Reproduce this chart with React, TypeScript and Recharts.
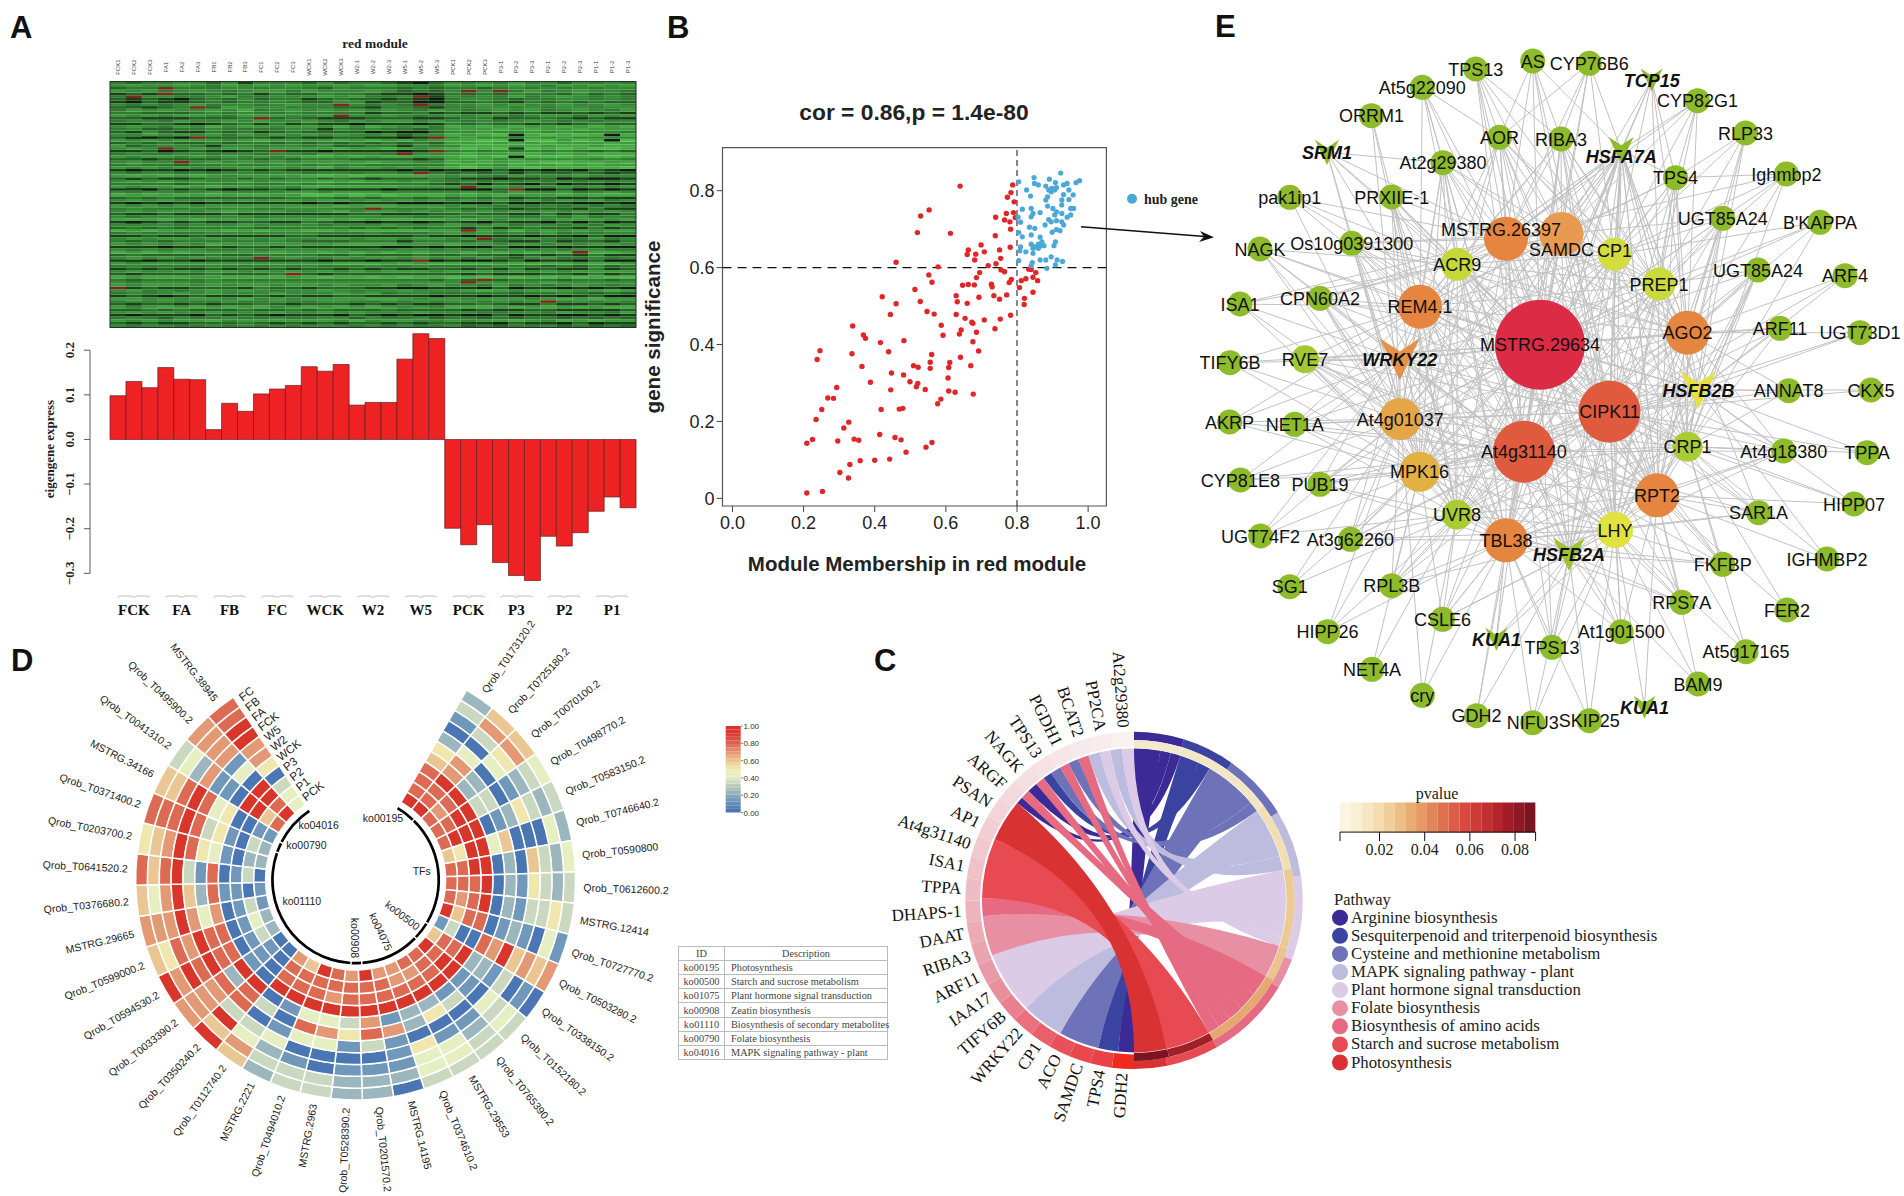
import React from "react";
import {
  BarChart, Bar, Cell, XAxis, YAxis, ScatterChart, Scatter, ReferenceLine, ReferenceArea,
  PieChart, Pie, LineChart, Line,
} from "recharts";

const SANS = '"Liberation Sans", Arial, sans-serif';
const SERIF = '"Liberation Serif", "Times New Roman", serif';

/* ---------- A: module heatmap + eigengene bars ---------- */
const sampleNames = ["FCK1","FCK2","FCK3","FA1","FA2","FA3","FB1","FB2","FB3","FC1","FC2","FC3","WCK1","WCK2","WCK3","W2-1","W2-2","W2-3","W5-1","W5-2","W5-3","PCK1","PCK2","PCK3","P3-1","P3-2","P3-3","P2-1","P2-2","P2-3","P1-1","P1-2","P1-3"];
const eigengene = [0.098,0.13,0.116,0.161,0.135,0.134,0.022,0.081,0.063,0.102,0.113,0.121,0.163,0.153,0.168,0.077,0.083,0.083,0.18,0.237,0.226,-0.199,-0.236,-0.191,-0.276,-0.305,-0.316,-0.217,-0.239,-0.209,-0.161,-0.129,-0.153];
const groupMiddles: Record<string,string> = {FCK2:"FCK",FA2:"FA",FB2:"FB",FC2:"FC",WCK2:"WCK","W2-2":"W2","W5-2":"W5",PCK2:"PCK","P3-2":"P3","P2-2":"P2","P1-2":"P1"};
const heatRows = [
"323344241333242332102 434353424343","454454354545445455443 545454354545","233333344344324333232 332343434344","545345434553544454232 454235345443",
"121222323132243321101 323243324232","344433453344454533411 434353454343","212102324233123221210 344323344343","102112323343224412200 223213232322",
"434345344345443434343 445454454454","221233254443332213321 334434344344","354544546345454545435 434545345435","332223434334333312231 211212112121",
"545455435554455445434 545434553545","221112223223211122211 233122321211","344354454544543545545 434345434344","112210123131211011101 323221212322",
"454354645545546465453 656565565656","342233433334414343323 555656556555","214211323123222201002 445445454443","445454535454545445244 656706767606",
"210101222212112211010 454435454444","545455545655556565645 667707757607","232322323323232323232 556565655565","523443144344342233143 466656566566",
"454545455455556556545 676717676776","112012101211101111011 343434343232","343344344344354443444 565566565666","545545454545665656655 676707776676",
"221222233232333222212 555454444343","454434545454555565544 656566776656","343323343344343433333 565465565655","545454445554564554545 676567666667",
"101101012121111111010 100201010210","434434344344344344343 232313223212","565656545555676766665 454354445444","212112332323323212223 211011201001",
"454545445455565655454 343434343434","333323434334343333332 120210201101","545565655454666666555 545545454545","110212101121211110111 100210020101",
"434434544445545554444 454354453454","656565656655776767666 565655565666","232322222223332323323 232312211211","454544545455455454545 454535354534",
"101010111111010111000 100200110010","545454555555556566555 454343434343","343334344334443343334 323212221311","454554565554456455454 545454545454",
"211211121111111221112 232211312113","434444444344444444433 434433435343","565656555555565656666 565455455545","101212112211321101101 210211020201",
"444434445444434445444 544534434354","232323333233333232323 313123221312","656555565655665666665 555464545455","343433444444433343334 545343534344",
"112112111112211111121 101110110200","454554545454455455455 454345433534","323233333343222333133 323211312213","545454655555556666555 655455454554",
"111011212212111110010 100200101100","434344334344444333443 434343434433","656565555565565656565 565656565665","232222322333322322232 232212121311",
"454545444545445455454 535324533434","110110111111101101110 100120110200","545555555555556665656 666566665665","343333433343433343343 333433232423",
"121211212121221212112 212131211312","454454554545454545554 555454545555","212222322232212222222 212111221312","656665566665676676766 767676767677",
"323333433333333333332 423233323323","434443444444444444444 454444544444","545554545545545445345 443534345434","212112221322122211001 110201101010",
"453434545434454344544 456545654565","343454544454445453443 333323343232","121012111212112211110 110110101200","554545546454555566545 545554565655",
"343433343343344334343 443434334343","212212122321222121211 223211311212","545656565645656565454 666565656566","223232223223232223222 212112211112",
"454544544454454544454 443344354435","101110212101110210100 100201100101","343243343343344243342 332323323232","545455645555554645544 545565465655",
"212112223212121221212 211021102011","434433434343444343433 423233423232",
];
/* row, column of the few dark-red streaks */
const heatRedCells: number[][] = [[2,3],[4,3],[5,1],[9,5],[13,9],[25,10],[24,3],[20,5],[29,4],[20,20],[25,20],[26,18],[33,19],[38,22],[39,25],[54,22],[57,23],[65,19],[64,9],[70,11],[75,0],[73,22],[72,23],[5,19],[8,19],[3,22],[3,24],[8,14],[12,14],[80,27],[62,29],[46,16]];
const heatPalette: Record<string,string> = {"0":"#0a1f0a","1":"#164216","2":"#246424","3":"#2e7a2f","4":"#348a34","5":"#3c9a3a","6":"#44aa40","7":"#4eba46",r:"#7a2a1c"};
const heatCells = heatRows.map((r, ri) => {
  const cells = r.replace(" ", "").split("");
  heatRedCells.forEach(([row, col]) => { if (row === ri) cells[col] = "r"; });
  return cells.join("");
});
const heatData = sampleNames.map((s) => {
  const o: any = { sample: s };
  heatCells.forEach((_, i) => { o["r" + i] = 1; });
  return o;
});
const barData = sampleNames.map((s, i) => ({ sample: s, value: eigengene[i] }));
const eigenTicks = [-0.3,-0.2,-0.1,0,0.1,0.2];

/* ---------- B: scatter ---------- */
const belowHub: number[][] = [[.640,.812],[.553,.750],[.529,.734],[.520,.691],[.613,.689],[.460,.614],[.578,.602],[.552,.581],[.561,.562],[.513,.543],[.528,.512],[.460,.506],[.421,.524],[.444,.478],[.547,.486],[.567,.479],[.587,.450],[.592,.424],[.482,.410],[.416,.405],[.439,.381],[.338,.448],[.368,.425],[.374,.416],[.246,.384],[.238,.361],[.336,.376],[.364,.343],[.447,.326],[.481,.321],[.388,.302],[.293,.288],[.268,.261],[.284,.260],[.251,.231],[.235,.205],[.418,.231],[.469,.232],[.479,.234],[.327,.198],[.313,.183],[.225,.153],[.209,.143],[.296,.149],[.342,.154],[.355,.151],[.414,.166],[.457,.158],[.474,.152],[.488,.120],[.544,.133],[.561,.145],[.359,.098],[.400,.099],[.442,.102],[.330,.088],[.302,.067],[.326,.053],[.209,.014],[.253,.018],[.445,.282],[.499,.303],[.509,.345],[.522,.341],[.556,.354],[.556,.338],[.560,.374],[.611,.353],[.608,.340],[.606,.313],[.641,.367],[.670,.345],[.676,.407],[.692,.383],[.608,.279],[.626,.276],[.677,.271],[.542,.283],[.517,.290],[.521,.299],[.577,.246],[.586,.258],[.629,.527],[.632,.511],[.660,.507],[.647,.554],[.663,.556],[.680,.555],[.686,.574],[.693,.523],[.728,.557],[.730,.550],[.735,.527],[.751,.518],[.771,.529],[.778,.561],[.784,.569],[.629,.478],[.654,.468],[.673,.458],[.708,.464],[.753,.466],[.782,.476],[.643,.438],[.638,.427],[.686,.432],[.738,.441],[.676,.455],[.695,.587],[.719,.605],[.741,.610],[.755,.594],[.765,.589],[.754,.624],[.751,.646],[.708,.641],[.699,.659],[.684,.635],[.681,.620],[.663,.646],[.660,.634],[.739,.683],[.781,.653],[.782,.700],[.740,.731],[.770,.741],[.765,.724],[.780,.719],[.795,.730],[.790,.743],[.773,.783],[.783,.795],[.788,.815],[.792,.771],[.833,.596],[.840,.595],[.853,.587],[.825,.571],[.812,.566],[.845,.575],[.858,.566],[.807,.548],[.845,.536],[.821,.520],[.820,.504]];
const hubGenes: number[][] = [[.805,.823],[.848,.834],[.849,.819],[.860,.815],[.891,.830],[.908,.821],[.923,.846],[.931,.815],[.941,.819],[.966,.821],[.976,.826],[.827,.802],[.838,.786],[.881,.812],[.898,.806],[.906,.802],[.886,.784],[.881,.776],[.896,.797],[.926,.776],[.931,.790],[.946,.802],[.958,.789],[.946,.777],[.926,.763],[.815,.752],[.886,.760],[.840,.754],[.845,.741],[.840,.732],[.865,.743],[.901,.754],[.911,.745],[.906,.737],[.951,.754],[.959,.754],[.941,.731],[.803,.731],[.810,.718],[.835,.705],[.850,.702],[.879,.711],[.889,.725],[.896,.719],[.911,.722],[.926,.719],[.931,.711],[.921,.696],[.899,.692],[.911,.699],[.805,.691],[.815,.680],[.840,.685],[.865,.679],[.870,.667],[.908,.667],[.904,.657],[.810,.654],[.808,.644],[.825,.641],[.840,.661],[.850,.654],[.860,.661],[.876,.657],[.845,.637],[.860,.650],[.805,.618],[.843,.613],[.865,.620],[.881,.620],[.896,.628],[.913,.620],[.928,.616],[.908,.607],[.884,.598],[.840,.605],[.911,.808],[.889,.802],[.951,.737],[.926,.741],[.865,.656],[.855,.654],[.845,.650]];
const toPts = (a: number[][]) => a.map(([x, y]) => ({ x, y }));

/* ---------- C: chord ---------- */
const geneNames = ["GDH2","TPS4","SAMDC","ACO","CP1","WRKY22","TIFY6B","IAA17","ARF11","RIBA3","DAAT","DHAPS-1","TPPA","ISA1","At4g31140","AP1","PSAN","ARGF","NAGK","TPS13","PGDH1","BCAT2","PP2CA","At2g29380"];
const geneColors = ["#f02a20","#ea4048","#e8484e","#e8505a","#e9606a","#e9707c","#e88090","#e8909c","#e99aa8","#e9a4b0","#ecacb6","#edb4bc","#eebcc4","#efc2c8","#f0c8ce","#f2ced2","#f3d4d8","#f4d8dc","#f5dee0","#f6e2e4","#f7e6e8","#f8eaec","#f8ecee","#f9f0f0"];
const pathwayNames = ["Arginine biosynthesis","Sesquiterpenoid and triterpenoid biosynthesis","Cysteine and methionine metabolism","MAPK signaling pathway - plant","Plant hormone signal transduction","Folate biosynthesis","Biosynthesis of amino acids","Starch and sucrose metabolism","Photosynthesis"];
const pathwayColors = ["#3c2a96","#3a44a0","#6e72b8","#bdbbde","#dccbe6","#e88fa4","#e66a82","#e84a52","#d93232"];
const pathwayShare = [17.2,18.2,23.2,23,29,10.4,29.6,18,11.4];
const pvalueShare = [17.8,12,24.2,24.5,29,12.3,30.7,16.9,12.6];
const pvalueRing = ["#f3e9cc","#f2e6c6","#f3e6c5","#f0dfb5","#ecca93","#e9c48c","#e5a870","#a12028","#7a1420"];
/* pathway index, gene-side start/end, pathway-side start/end (degrees of the circle) */
const chordLinks: number[][] = [
  [0,180,186,0,10],[0,309.8,312.5,10,14],[0,316,320,14,17.8],
  [1,186,193.7,17.8,25],[1,323.5,327,25,29.8],
  [2,193.7,209,29.8,46],[2,327,331,46,50],[2,334.5,338.5,50,54],
  [3,209,225,54,68],[3,342.5,347,68,73],[3,351,355.5,73,78.5],
  [4,225,248.8,78.5,100],[4,347,351,100,104],[4,355.5,360,104,107.5],
  [5,248.8,264,107.5,119.8],
  [6,264,270.8,119.8,128],[6,312.5,316,128,135],[6,320,323.5,135,141],[6,331,334.5,141,146],[6,338.5,342.5,146,150.5],
  [7,270.8,293.7,150.5,167.4],
  [8,293.7,309.8,167.4,180],
];
const pvalueBands = ["#fbf5e2","#f9efd3","#f7e6c2","#f4dcb0","#f1cf9b","#edbf86","#e9ad74","#e69a66","#e2865a","#de7150","#da5d48","#d64a40","#d03a36","#c42e30","#b4242c","#a21c28","#8e1824","#7a1420"];
const pvalueTicks = [0.0025,0.02,0.04,0.06,0.08,0.0891];
const koTableIds = ["ko00195","ko00500","ko01075","ko00908","ko01110","ko00790","ko04016"];
const koTableDesc = ["Photosynthesis","Starch and sucrose metabolism","Plant hormone signal transduction","Zeatin biosynthesis","Biosynthesis of secondary metabolites","Folate biosynthesis","MAPK signaling pathway - plant"];

/* ---------- D: circular heatmap ---------- */
const circGenes = ["Qrob_T0173120.2","Qrob_T0725180.2","Qrob_T0070100.2","Qrob_T0498770.2","Qrob_T0583150.2","Qrob_T0746640.2","Qrob_T0590800","Qrob_T0612600.2","MSTRG.12414","Qrob_T0727770.2","Qrob_T0503280.2","Qrob_T0338150.2","Qrob_T0152180.2","Qrob_T0765390.2","MSTRG.29553","Qrob_T0374610.2","MSTRG.14195","Qrob_T0201570.2","Qrob_T0528390.2","MSTRG.2963","Qrob_T0494010.2","MSTRG.2221","Qrob_T0112740.2","Qrob_T0350240.2","Qrob_T0033390.2","Qrob_T0594530.2","Qrob_T0599000.2","MSTRG.29665","Qrob_T0376680.2","Qrob_T0641520.2","Qrob_T0203700.2","Qrob_T0371400.2","MSTRG.34166","Qrob_T0041310.2","Qrob_T0495900.2","MSTRG.38945"];
const circRings = ["FC","FB","FA","FCK","W5","W2","WCK","P3","P2","P1","PCK"];
/* one string per gene, outer ring (FC) to inner ring (PCK); digit = scaled expression x 9 */
const circValues = ["23102568889","67304779889","67540229878","43210339988","32352109998","24000649956","42360209988","32351209888","35331209878","14012108869","76769780031","01031229886","34340119989","33210319888","34410529878","34450229877","02111719887","22103879889","22101539887","33004749788","33104849889","23241019886","67430309887","96938890000","77778291110","97989880132","65879880142","77797470131","64796281101","86893180130","56798541022","88898351032","66898450011","34271109968","77771409989","88997750344"];
const circPalette = ["#4a76b3","#7098ba","#9cb6bd","#c9d8bf","#e6efc2","#f0e7ae","#e9c692","#e39a74","#dd6a52","#d8352b"];
const trackNames = ["ko00195","TFs","ko00500","ko04075","ko00908","ko01110","ko00790","ko04016"];
const trackSpan = [13.4,77.5,12,41.5,6.5,107,6.5,29.5];
const scaleBandColors = ["#4a76b3","#5681b5","#648db7","#7399ba","#84a6bc","#96b2bd","#a9c0bf","#bccdc0","#cfdbc1","#e0e7c2","#ebefc0","#f0ecb5","#f0e2a8","#eed49a","#ebc38c","#e8b080","#e59c74","#e28868","#df745c","#dc6050","#da4e44","#d9413a","#d83a32","#d7332b"];
const scaleTicks = [0,0.2,0.4,0.6,0.8,1];

/* ---------- E: network ---------- */
const nodeNames = ["TPS13","AS","CYP76B6","TCP15","At5g22090","CYP82G1","ORRM1","AOR","RIBA3","HSFA7A","RLP33","SRM1","At2g29380","TPS4","Ighmbp2","pak1ip1","PRXIIE-1","MSTRG.26397","SAMDC","CP1","UGT85A24","B'KAPPA","Os10g0391300","NAGK","ACR9","PREP1","UGT85A24","ARF4","ISA1","CPN60A2","REM4.1","MSTRG.29634","AGO2","ARF11","UGT73D1","TIFY6B","RVE7","WRKY22","HSFB2B","ANNAT8","CKX5","AKRP","NET1A","At4g01037","CIPK11","CRP1","At4g18380","TPPA","At4g31140","MPK16","CYP81E8","PUB19","RPT2","HIPP07","SAR1A","UVR8","LHY","TBL38","UGT74F2","At3g62260","HSFB2A","FKFBP","IGHMBP2","SG1","RPL3B","RPS7A","FER2","CSLE6","HIPP26","KUA1","At1g01500","TPS13","At5g17165","NET4A","BAM9","cry","GDH2","NIFU3","SKIP25","KUA1"];
const layoutX = [1475.7,1532.7,1589.3,1651.7,1422.3,1697.5,1371.5,1499.5,1561,1621.2,1745.6,1327,1443,1675.5,1786.4,1289.8,1391.7,1506,1561.5,1614.5,1722.7,1820,1351.8,1260,1457.3,1659,1758,1845,1240,1320,1420,1540,1687.6,1780,1860,1230,1305,1399.8,1698.4,1788.7,1870.9,1229.6,1294.7,1400.3,1609.5,1687.6,1783.7,1867,1523.8,1419.6,1240.4,1320,1657,1854,1758.6,1456.9,1615,1506,1260.6,1350.4,1569,1722.7,1826.9,1289.8,1391.7,1681.8,1786.9,1442.5,1327.5,1496.4,1621.2,1552,1746,1372,1698,1422.3,1476.6,1532.7,1589.3,1644.5];
const layoutY = [69,61,63.3,80,87.3,100.7,115.7,137.3,139,150,133,152.3,162.7,177.7,174,197.3,197,238.7,234,254.3,218.3,222.3,243.3,249,264.3,284,270,275.7,304,298.3,306.7,344.7,332.7,328.3,332.7,362.7,359.3,359.3,390,390.7,390,422,424.3,419,411.7,446.7,451,452.7,451.7,471.7,480,484.3,495.3,504,512.7,514.7,530,540.3,536,539.3,554.3,564.3,559,586.7,585.7,602.3,610,619.3,631.7,639.3,631.7,647.3,651.7,669.3,684,695.3,715.7,722.7,720.7,707.3];
const nodeDegree = [25,25,25,22,25,25,25,25,25,25,25,24,25,25,25,25,25,44,44,33,25,25,25,25,33,33,25,25,25,25,44,90,44,25,25,25,28,40,36,25,25,25,25,42,62,30,25,25,62,40,25,25,44,25,25,30,36,44,25,25,32,25,25,25,25,25,25,25,25,22,25,25,25,25,25,25,25,25,25,22];
const tfNames = ["TCP15","HSFA7A","SRM1","WRKY22","HSFB2B","HSFB2A","KUA1"];
const hubLetters: Record<string,string> = {a:"MSTRG.29634",b:"CIPK11",c:"At4g31140",d:"MSTRG.26397",e:"SAMDC",f:"REM4.1",g:"AGO2",h:"RPT2",i:"TBL38",j:"At4g01037",k:"MPK16",l:"CP1",m:"ACR9",n:"PREP1",o:"CRP1",p:"UVR8",q:"LHY",r:"WRKY22",s:"HSFB2B",t:"HSFB2A",u:"HSFA7A",v:"AOR",w:"RIBA3",x:"At2g29380",y:"TPS4"};
const nodeLinks = ["vwdeacl","vwdeabu","wvueadl","uylenag","xvdmfac","uylengd","fjp","deabclmfhkgnq","deabclgqfhinm","ldeabcngyhmfj","ynlgoh","dfmxajk","dmfeajckhgip","lnegoabchqf","dlgnaoy","dmfaj","mfdjkacbhpi","","","","nlgoeahbcq","nlgoa","dmefrjakcbhgi","fmrjkac","","","gnohsabcqh","gsb","frjkdm","fmdjkaecbip","","","","gasbo","gsb","rjfak","rfjkacbhipq","","","sgob","sb","jkrfc","jkrfabcp","","","","ogshbqcai","osb","","","jkrc","jkfapbci","","ohsb","ohbqcaig","","","","jkrp","kjirpcabq","","hoqcbait","ohs","kjp","kipjcabq","hqtbcai","ho","ipkctabq","kjpi","itqc","qthbcai","itqcab","hqo","kp","hqt","ipj","ict","itq","qti","qh"];
const hubClique = "abcdefghijklmnopqrstu";
const labelShift: Record<number,[number,number]> = {9:[0,6],17:[-5,-9],18:[0,15],19:[0,-4]};

const nodeIndex = (letter: string) => nodeNames.indexOf(hubLetters[letter]);
const edgeData: any[] = [];
const pushEdge = (i: number, j: number) => {
  edgeData.push({ x: layoutX[i], y: layoutY[i] }, { x: layoutX[j], y: layoutY[j] }, { x: layoutX[j], y: null });
};
nodeLinks.forEach((s, i) => s.split("").forEach((l) => pushEdge(i, nodeIndex(l))));
hubClique.split("").forEach((a, p) => hubClique.slice(p + 1).split("").forEach((b) => pushEdge(nodeIndex(a), nodeIndex(b))));
const nodeData = nodeNames.map((name, i) => ({ name, x: layoutX[i], y: layoutY[i], degree: nodeDegree[i], tf: tfNames.includes(name), idx: i }));

const namedColors: Record<string,string> = {SAMDC:"#e89a50",WRKY22:"#e69048",HSFB2B:"#e6e040",HSFB2A:"#9cc432",LHY:"#dfe23f",CP1:"#d4dc40",ACR9:"#c5d838",PREP1:"#c8da3c"};
const nodeColor = (d: number, name: string) => {
  if (namedColors[name]) return namedColors[name];
  if (d <= 25) return "#8dbb2a";
  if (d <= 28) return "#a3c832";
  if (d <= 30) return "#a9cc35";
  if (d <= 40) return "#e3b044";
  if (d <= 42) return "#e5a648";
  if (d <= 44) return "#e5853f";
  if (d <= 62) return "#e05a3e";
  return "#dc2b45";
};

const Abs = ({ left, top, children }: any) => (
  <div style={{ position: "absolute", left, top }}>{children}</div>
);

const NodeShape = (p: any) => {
  const { cx, cy, payload } = p;
  const r = payload.degree / 2;
  const fill = nodeColor(payload.degree, payload.name);
  if (payload.tf) {
    const h = r * 1.05;
    return <polygon points={`${cx - r},${cy - h} ${cx},${cy - h * 0.37} ${cx + r},${cy - h} ${cx},${cy + h}`} fill={fill} />;
  }
  return <circle cx={cx} cy={cy} r={r} fill={fill} />;
};
const LabelShape = (p: any) => {
  const { cx, cy, payload } = p;
  const s = labelShift[payload.idx] || [0, 0];
  return (
    <text x={cx + s[0]} y={cy + s[1] + 6.5} textAnchor="middle" fontFamily={SANS} fontSize={18} fill="#111"
      fontWeight={payload.tf ? 700 : 400} fontStyle={payload.tf ? "italic" : "normal"}>{payload.name}</text>
  );
};

const rib = (theta: number, r: number, cx: number, cy: number) => {
  const a = (theta * Math.PI) / 180;
  return [cx + r * Math.sin(a), cy - r * Math.cos(a)];
};
const ribbonPath = (l: number[], r: number, cx: number, cy: number) => {
  const [, a1, a2, b1, b2] = l;
  const A1 = rib(a1, r, cx, cy), A2 = rib(a2, r, cx, cy), B1 = rib(b1, r, cx, cy), B2 = rib(b2, r, cx, cy);
  return `M${B1[0]},${B1[1]}A${r},${r} 0 0 1 ${B2[0]},${B2[1]}Q${cx},${cy} ${A1[0]},${A1[1]}A${r},${r} 0 0 1 ${A2[0]},${A2[1]}Q${cx},${cy} ${B1[0]},${B1[1]}Z`;
};

const geneLabel = (p: any) => {
  const { cx, cy, midAngle, index } = p;
  const a = (midAngle * Math.PI) / 180;
  const x = cx + 173 * Math.cos(a), y = cy - 173 * Math.sin(a);
  return (
    <text x={x} y={y} dy={5} textAnchor="end" fontFamily={SERIF} fontSize={17} fill="#111"
      transform={`rotate(${-180 - midAngle},${x},${y})`}>{geneNames[index]}</text>
  );
};
const circLabel = (p: any) => {
  const { cx, cy, midAngle, index } = p;
  const a = (midAngle * Math.PI) / 180;
  const x = cx + 228 * Math.cos(a), y = cy - 228 * Math.sin(a);
  const theta = 90 - midAngle;
  const right = theta < 180;
  return (
    <text x={x} y={y} dy={3.5} textAnchor={right ? "start" : "end"} fontFamily={SANS} fontSize={10.5} fill="#222"
      transform={`rotate(${right ? theta - 90 : theta - 270},${x},${y})`}>{circGenes[index]}</text>
  );
};

const CX_D = 355.6, CY_D = 290;
const RING = 11.82;
const circStart = 90 - 30.3, circEnd = 90 - 326.2;

export default function App() {
  const scaleRow: any = { k: "s" };
  scaleBandColors.forEach((_, i) => { scaleRow["b" + i] = 1 / scaleBandColors.length; });
  const pvalRow: any = { k: "p" };
  pvalueBands.forEach((_, i) => { pvalRow["b" + i] = (i === 0 ? 0.0025 : 0) + (0.0891 - 0.0025) / pvalueBands.length; });
  const cxC = 254, cyC = 250.4;

  return (
    <div style={{ position: "absolute", left: 0, top: 0, width: 1904, height: 1196, background: "#fff", overflow: "hidden" }}>
      {/* A heatmap */}
      <Abs left={0} top={40}>
        <BarChart width={660} height={300} data={heatData} barCategoryGap={0} barGap={0}
          margin={{ top: 19.5, right: 24, bottom: 12.5, left: 110 }}>
          <XAxis dataKey="sample" orientation="top" height={22} interval={0} axisLine={false} tickLine={false}
            tick={(p: any) => (
              <text x={p.x} y={27} dy={2} textAnchor="middle" fontFamily={SANS} fontSize={6} fill="#444"
                transform={`rotate(-90,${p.x},27)`}>{p.payload.value}</text>
            )} />
          <YAxis hide type="number" domain={[0, heatCells.length]} />
          {heatCells.map((_, idx) => {
            const ri = heatCells.length - 1 - idx;
            return (
              <Bar key={ri} dataKey={"r" + ri} stackId="h" isAnimationActive={false} stroke="none">
                {sampleNames.map((s, c) => <Cell key={s} fill={heatPalette[heatCells[ri][c] || "4"]} />)}
              </Bar>
            );
          })}
        </BarChart>
      </Abs>
      {/* A bars */}
      <Abs left={0} top={300}>
        <BarChart width={660} height={340} data={barData} barCategoryGap={0} barGap={0}
          margin={{ top: 27.9, right: 24, bottom: 23.3, left: 20 }}>
          <XAxis dataKey="sample" height={30} interval={0} axisLine={false} tickLine={false}
            tick={(p: any) => {
              const g = groupMiddles[p.payload.value];
              if (!g) return <g />;
              return (
                <g>
                  <path d={`M${p.x - 16},297.5 q1,-1.5 3,-1.5 h9 q3,0 4,1.5 q1,-1.5 4,-1.5 h9 q2,0 3,1.5`} fill="none" stroke="#aaa" strokeWidth={0.8} />
                  <text x={p.x} y={315} textAnchor="middle" fontFamily={SERIF} fontWeight={700} fontSize={15} fill="#111">{g}</text>
                </g>
              );
            }} />
          <YAxis type="number" width={90} domain={[-0.33, 0.25]} ticks={eigenTicks} axisLine={false} tickLine={false} interval={0}
            tick={(p: any) => {
              const v = p.payload.value;
              return (
                <g>
                  <line x1={84} x2={90} y1={p.y} y2={p.y} stroke="#333" strokeWidth={0.8} />
                  <text x={74} y={p.y} textAnchor="middle" fontFamily={SERIF} fontWeight={700} fontSize={13} fill="#222"
                    transform={`rotate(-90,74,${p.y})`}>{v < 0 ? "\u2212" + Math.abs(v).toFixed(1) : v.toFixed(1)}</text>
                </g>
              );
            }} />
          <Bar dataKey="value" fill="#ee2222" stroke="#5e2020" strokeWidth={0.7} isAnimationActive={false} />
        </BarChart>
      </Abs>

      {/* B */}
      <Abs left={660} top={100}>
        <ScatterChart width={480} height={480} margin={{ top: 47.7, right: 33.6, bottom: 34, left: 12.5 }}>
          <XAxis type="number" dataKey="x" height={40} domain={[-0.0281, 1.0514]} ticks={[0,0.2,0.4,0.6,0.8,1]} allowDataOverflow
            tickFormatter={(v: number) => v.toFixed(1)} tick={{ fontFamily: SANS, fontSize: 18, fill: "#222" }} tickSize={6} tickMargin={4} stroke="#444" axisLine={false} />
          <YAxis type="number" dataKey="y" width={50} domain={[-0.02, 0.9118]} ticks={[0,0.2,0.4,0.6,0.8]} allowDataOverflow
            tickFormatter={(v: number) => (v === 0 ? "0" : v.toFixed(1))} tick={{ fontFamily: SANS, fontSize: 18, fill: "#222" }} tickSize={6} tickMargin={2} stroke="#444" axisLine={false} />
          <ReferenceArea x1={-0.0281} x2={1.0514} y1={-0.02} y2={0.9118} fill="none" stroke="#555" strokeWidth={1.2} ifOverflow="visible" />
          <ReferenceLine x={0.8} stroke="#111" strokeWidth={1} strokeDasharray="6 4" />
          <Scatter data={toPts(belowHub)} isAnimationActive={false}
            shape={(p: any) => <circle cx={p.cx} cy={p.cy} r={2.7} fill="#e02626" />} />
          <Scatter data={toPts(hubGenes)} isAnimationActive={false}
            shape={(p: any) => <circle cx={p.cx} cy={p.cy} r={2.6} fill="#4aa8d8" />} />
          <ReferenceLine y={0.6} stroke="#111" strokeWidth={1.4} strokeDasharray="9 6" />
        </ScatterChart>
      </Abs>

      {/* E edges + nodes */}
      <Abs left={1200} top={0}>
        <LineChart width={704} height={750} data={edgeData} margin={{ top: 0, right: 0, bottom: 0, left: 0 }}>
          <XAxis hide type="number" dataKey="x" domain={[1200, 1904]} />
          <YAxis hide type="number" domain={[0, 750]} reversed />
          <Line dataKey="y" dot={false} type="linear" connectNulls={false} stroke="#c2c2c2" strokeWidth={1} isAnimationActive={false} />
        </LineChart>
      </Abs>
      <Abs left={1200} top={0}>
        <ScatterChart width={704} height={750} margin={{ top: 0, right: 0, bottom: 0, left: 0 }}>
          <XAxis hide type="number" dataKey="x" domain={[1200, 1904]} />
          <YAxis hide type="number" dataKey="y" domain={[0, 750]} reversed />
          <Scatter data={nodeData} isAnimationActive={false} shape={NodeShape} />
          <Scatter data={nodeData} isAnimationActive={false} shape={LabelShape} />
        </ScatterChart>
      </Abs>

      {/* D */}
      <Abs left={0} top={590}>
        <PieChart width={690} height={606} margin={{ top: 0, right: 0, bottom: 0, left: 0 }}>
          {circRings.map((ring, ri) => (
            <Pie key={ring} dataKey="value" isAnimationActive={false}
              data={circGenes.map((g) => ({ name: g, value: 1 }))}
              cx={CX_D} cy={CY_D} startAngle={circStart} endAngle={circEnd}
              outerRadius={220 - ri * RING} innerRadius={220 - (ri + 1) * RING}
              stroke="#fff" strokeWidth={1.5} labelLine={false} label={ri === 0 ? circLabel : false}>
              {circGenes.map((g, c) => <Cell key={g + c} fill={circPalette[Number(circValues[c][ri])]} />)}
            </Pie>
          ))}
          <Pie dataKey="value" isAnimationActive={false} data={trackNames.map((n, i) => ({ name: n, value: trackSpan[i] }))}
            cx={CX_D} cy={CY_D} startAngle={circStart} endAngle={circEnd} outerRadius={84.5} innerRadius={81.8} paddingAngle={1}
            fill="#000" stroke="none" />
          {circRings.map((ring, ri) => {
            const a = (327.6 * Math.PI) / 180;
            const r = 214 - ri * RING;
            const x = CX_D + r * Math.sin(a), y = CY_D - r * Math.cos(a);
            return <text key={ring} x={x} y={y} dy={3} fontFamily={SANS} fontSize={11.5} fill="#222" transform={`rotate(-38,${x},${y})`}>{ring}</text>;
          })}
        </PieChart>
      </Abs>

      {/* D colour scale */}
      <Abs left={700} top={700}>
        <BarChart width={70} height={130} data={[scaleRow]} barCategoryGap={0} margin={{ top: 26, right: 29, bottom: 17.5, left: 25.7 }}>
          <XAxis hide dataKey="k" />
          <YAxis orientation="right" type="number" width={0.01} domain={[0, 1]} ticks={scaleTicks} interval={0} axisLine={false} tickLine={false}
            tick={(p: any) => (
              <g>
                <line x1={41} x2={43} y1={p.y} y2={p.y} stroke="#333" strokeWidth={0.6} />
                <text x={43.5} y={p.y + 3} fontFamily={SANS} fontSize={8} fill="#333">{Number(p.payload.value).toFixed(2)}</text>
              </g>
            )} />
          {scaleBandColors.map((c, i) => <Bar key={c + i} dataKey={"b" + i} stackId="s" fill={c} isAnimationActive={false} />)}
        </BarChart>
      </Abs>

      {/* C */}
      <Abs left={880} top={650}>
        <PieChart width={430} height={510} margin={{ top: 0, right: 0, bottom: 0, left: 0 }}>
          <g>
            {chordLinks.map((l, i) => <path key={i} d={ribbonPath(l, 152, cxC, cyC)} fill={pathwayColors[l[0]]} />)}
          </g>
          <Pie dataKey="value" isAnimationActive={false} data={pathwayNames.map((n, i) => ({ name: n, value: pathwayShare[i] }))}
            cx={cxC} cy={cyC} startAngle={90} endAngle={-90} innerRadius={160.5} outerRadius={168.7} stroke="none">
            {pathwayNames.map((n, i) => <Cell key={n} fill={pathwayColors[i]} />)}
          </Pie>
          <Pie dataKey="value" isAnimationActive={false} data={pathwayNames.map((n, i) => ({ name: n, value: pvalueShare[i] }))}
            cx={cxC} cy={cyC} startAngle={90} endAngle={-90} innerRadius={152.5} outerRadius={160.5} stroke="none">
            {pathwayNames.map((n, i) => <Cell key={n} fill={pvalueRing[i]} />)}
          </Pie>
          <Pie dataKey="value" isAnimationActive={false} data={geneNames.map((n) => ({ name: n, value: 1 }))}
            cx={cxC} cy={cyC} startAngle={-90} endAngle={-270} innerRadius={154} outerRadius={168.7} stroke="none"
            labelLine={false} label={geneLabel}>
            {geneNames.map((n, i) => <Cell key={n} fill={geneColors[i]} />)}
          </Pie>
        </PieChart>
      </Abs>

      {/* C p-value legend */}
      <Abs left={1300} top={780}>
        <BarChart width={280} height={85} layout="vertical" data={[pvalRow]} barCategoryGap={0}
          margin={{ top: 22.4, right: 44.4, bottom: 5, left: 40 }}>
          <XAxis type="number" height={27.9} domain={[0.0025, 0.0891]} ticks={pvalueTicks} interval={0} allowDataOverflow
            stroke="#111" tickSize={9} tickMargin={3}
            tickFormatter={(v: number) => (v === 0.0025 || v === 0.0891 ? "" : v.toFixed(2))}
            tick={{ fontFamily: SERIF, fontSize: 16, fill: "#222" }} />
          <YAxis hide type="category" dataKey="k" />
          {pvalueBands.map((c, i) => <Bar key={c} dataKey={"b" + i} stackId="p" fill={c} isAnimationActive={false} />)}
        </BarChart>
      </Abs>

      {/* table */}
      <div style={{ position: "absolute", left: 678, top: 945.7 }}>
        <table style={{ borderCollapse: "collapse", width: 210, tableLayout: "fixed", fontFamily: SERIF, fontSize: 10.3, color: "#444" }}>
          <tbody>
            <tr style={{ height: 14.2 }}>
              <td style={{ width: 45, border: "1px solid #bbb", textAlign: "center", padding: 0, lineHeight: "13px" }}>ID</td>
              <td style={{ border: "1px solid #bbb", textAlign: "center", padding: 0, lineHeight: "13px" }}>Description</td>
            </tr>
            {koTableIds.map((id, i) => (
              <tr key={id} style={{ height: 14.2 }}>
                <td style={{ border: "1px solid #bbb", textAlign: "center", padding: 0, lineHeight: "13px" }}>{id}</td>
                <td style={{ border: "1px solid #bbb", padding: "0 0 0 6px", lineHeight: "13px", whiteSpace: "nowrap" }}>{koTableDesc[i]}</td>
              </tr>
            ))}
          </tbody>
        </table>
      </div>

      {/* annotation layer */}
      <svg width={1904} height={1196} style={{ position: "absolute", left: 0, top: 0, pointerEvents: "none" }}>
        {[["A",10,37.5],["B",667,37.5],["E",1215,36.7],["D",11,671.4],["C",874,671]].map(([t, x, y]: any) => (
          <text key={t} x={x} y={y} fontFamily={SANS} fontWeight={700} fontSize={31} fill="#111">{t}</text>
        ))}
        <rect x={110} y={81.5} width={526} height={246} fill="none" stroke="#223322" strokeWidth={1} />
        <text x={375} y={48} textAnchor="middle" fontFamily={SERIF} fontWeight={700} fontSize={13.5} fill="#222">red module</text>
        <line x1={90} x2={90} y1={350.3} y2={573.4} stroke="#333" strokeWidth={0.8} />
        <text x={54} y={449} textAnchor="middle" fontFamily={SERIF} fontWeight={700} fontSize={13} fill="#222" transform="rotate(-90,54,449)">eigengene express</text>

        <text x={914} y={120} textAnchor="middle" fontFamily={SANS} fontWeight={700} fontSize={22.8} fill="#222">cor = 0.86,p = 1.4e-80</text>
        <text x={917} y={571} textAnchor="middle" fontFamily={SANS} fontWeight={700} fontSize={20.5} fill="#222">Module Membership in red module</text>
        <text x={664} y={327} textAnchor="middle" fontFamily={SANS} fontWeight={700} fontSize={20.6} fill="#222" transform="rotate(-90,664,327)" dy={-4}>gene significance</text>
        <circle cx={1132} cy={198.7} r={5} fill="#4aa8d8" />
        <text x={1144} y={203.5} fontFamily={SERIF} fontWeight={700} fontSize={14} fill="#222">hub gene</text>
        <line x1={1081} y1={226.7} x2={1208} y2={236.8} stroke="#111" strokeWidth={1.6} />
        <polygon points="1214,237.3 1200,231 1204,236.8 1199,242" fill="#111" />

        <text x={383} y={822} textAnchor="middle" fontFamily={SANS} fontSize={10.5} fill="#222">ko00195</text>
        <text x={318.6} y={829} textAnchor="middle" fontFamily={SANS} fontSize={10.5} fill="#222">ko04016</text>
        <text x={306.4} y={848.5} textAnchor="middle" fontFamily={SANS} fontSize={10.5} fill="#222">ko00790</text>
        <text x={301.8} y={905} textAnchor="middle" fontFamily={SANS} fontSize={10.5} fill="#222">ko01110</text>
        <text x={421.7} y={875} textAnchor="middle" fontFamily={SANS} fontSize={10.5} fill="#222">TFs</text>
        <text x={402} y={919} textAnchor="middle" fontFamily={SANS} fontSize={10.5} fill="#222" transform="rotate(38,402,916)">ko00500</text>
        <text x={380} y={935} textAnchor="middle" fontFamily={SANS} fontSize={10.5} fill="#222" transform="rotate(65,380,932)">ko04075</text>
        <text x={353.5} y={941} textAnchor="middle" fontFamily={SANS} fontSize={10.5} fill="#222" transform="rotate(90,353.5,938)">ko00908</text>

        <text x={1437} y={799} textAnchor="middle" fontFamily={SERIF} fontSize={16} fill="#222">pvalue</text>
        <text x={1334} y={905} fontFamily={SERIF} fontSize={16.5} fill="#222">Pathway</text>
        {pathwayNames.map((n, i) => {
          const y = 917.7 + i * 18.1;
          return (
            <g key={n}>
              <circle cx={1340} cy={y} r={8} fill={pathwayColors[i]} />
              <text x={1351} y={y + 5} fontFamily={SERIF} fontSize={16.8} fill="#222">{n}</text>
            </g>
          );
        })}
      </svg>
    </div>
  );
}
